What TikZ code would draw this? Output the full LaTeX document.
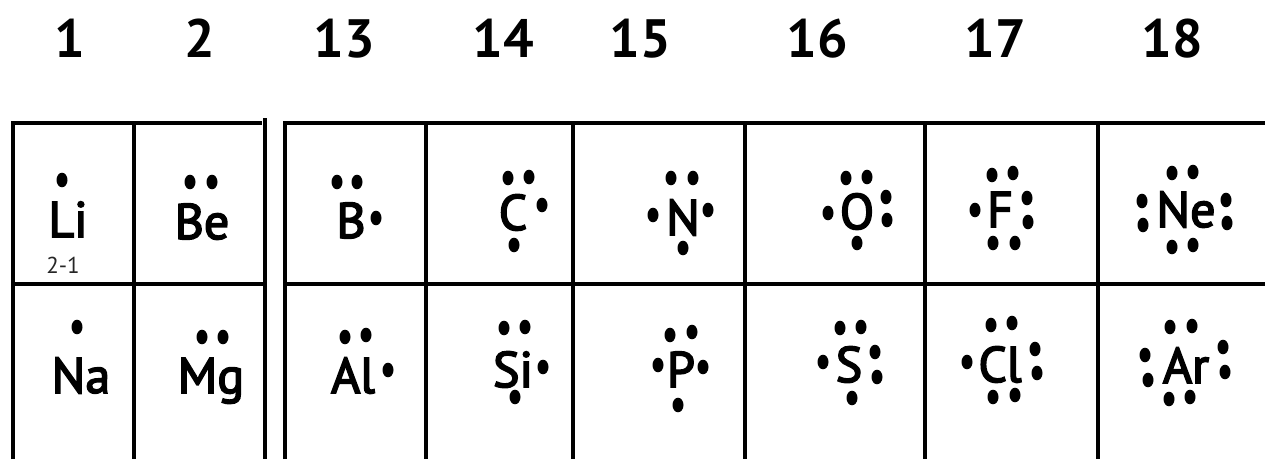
\documentclass[tikz,border=0pt]{standalone}
\usepackage{fontspec}
\setmainfont{PT Sans}
\newcommand\heavytext[1]{\special{pdf:literal 2 Tr 1.6 w}#1\special{pdf:literal 0 Tr}}
\tikzset{
  grid/.style={line width=4pt, line cap=butt, line join=miter, black},
  head/.style={anchor=base, inner sep=0pt, font=\bfseries\fontsize{54}{60}\selectfont},
  sym/.style={anchor=base, inner sep=0pt, font=\fontsize{50}{56}\selectfont, text=black},
  note/.style={anchor=base, inner sep=0pt, font=\fontsize{23}{26}\selectfont, text=black!85},
}
\newcommand\edots[1]{\foreach \p in {#1}{\fill[black] \p ellipse [x radius=5.5pt, y radius=7.3pt];}}
\begin{document}
\begin{tikzpicture}[x=1pt,y=-1pt]
\useasboundingbox[fill=white] (0,0) rectangle (1265,459);
% headers
\node[head] (h1)  at (70,57)   {1};
\node[head] (h2)  at (200,57)  {2};
\node[head] (h13) at (344,57)  {13};
\node[head] (h14) at (503,57)  {14};
\node[head] (h15) at (640,57)  {15};
\node[head] (h16) at (817,57)  {16};
\node[head] (h17) at (995,57)  {17};
\node[head] (h18) at (1172,57) {18};
% left block grid
\draw[grid] (12.5,459) -- (12.5,123) -- (262,123);
\draw[grid] (133.5,123) -- (133.5,459);
\draw[grid] (12.5,284) -- (264,284);
\draw[grid] (264.5,118) -- (264.5,459);
% right block grid
\draw[grid] (285,459) -- (285,123) -- (1265,123);
\foreach \x in {426,572.5,745,925,1097.5} {\draw[grid] (\x,123) -- (\x,459);}
\draw[grid] (285,284) -- (1265,284);
% symbols
\node[sym] (Li) at (68,237)   {\heavytext{Li}};
\node[sym] (Be) at (202,239)  {\heavytext{Be}};
\node[sym] (B)  at (351,238)  {\heavytext{B}};
\node[sym] (Na) at (81,393)   {\heavytext{Na}};
\node[sym] (Mg) at (211,393)  {\heavytext{Mg}};
\node[sym] (Al) at (353,393)  {\heavytext{Al}};
\node[sym] (C)  at (513,230)  {\heavytext{C}};
\node[sym] (N)  at (683,235)  {\heavytext{N}};
\node[sym] (O)  at (857,229)  {\heavytext{O}};
\node[sym] (F)  at (1000,227) {\heavytext{F}};
\node[sym] (Ne) at (1186,227) {\heavytext{Ne}};
\node[sym] (Si) at (513,387)  {\heavytext{Si}};
\node[sym] (P)  at (681,387)  {\heavytext{P}};
\node[sym] (S)  at (849,382)  {\heavytext{S}};
\node[sym] (Cl) at (1000,382) {\heavytext{Cl}};
\node[sym] (Ar) at (1186,383) {\heavytext{Ar}};
\node[note] (cfg) at (63,273) {2-1};
% electron dots
\edots{(62,180)}
\edots{(190,182),(212,182)}
\edots{(337,182),(357,182),(376,218)}
\edots{(77,327)}
\edots{(202,337),(223,337)}
\edots{(345,337),(366,335),(388,370)}
\edots{(508,178),(529,177),(542,205),(514,245)}
\edots{(671,178),(693,178),(653,215),(708,210),(683,248)}
\edots{(846,178),(867,177),(828,213),(886,197),(887,220),(857,243)}
\edots{(992,175),(1013,173),(975,210),(1027,198),(1028,222),(993,243),(1015,243)}
\edots{(1172,173),(1193,172),(1142,201),(1143,225),(1226,200),(1227,223),(1172,247),(1193,245)}
\edots{(504,328),(525,327),(543,367),(515,397)}
\edots{(670,335),(692,332),(658,365),(703,367),(678,405)}
\edots{(840,328),(861,327),(823,362),(875,352),(877,377),(852,398)}
\edots{(991,325),(1012,323),(967,362),(1035,349),(1037,373),(993,397),(1015,395)}
\edots{(1170,327),(1192,326),(1145,355),(1148,380),(1223,347),(1225,372),(1169,399),(1190,397)}
\end{tikzpicture}
\end{document}
